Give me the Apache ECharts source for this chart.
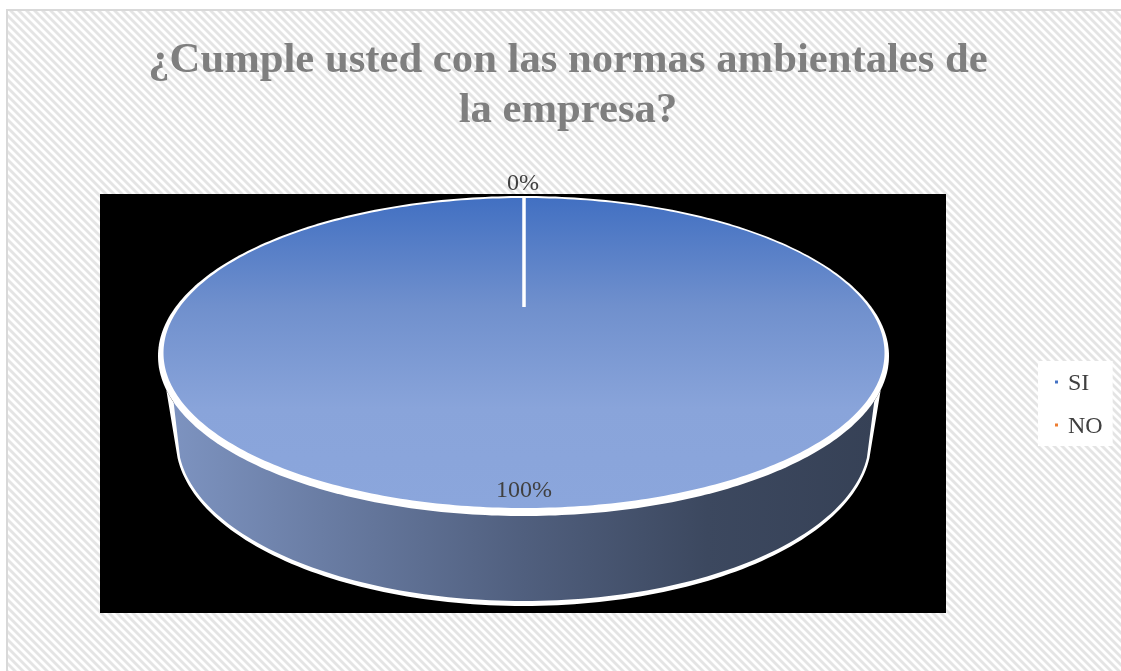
<!DOCTYPE html>
<html>
<head>
<meta charset="utf-8">
<style>
html, body { margin: 0; padding: 0; background: #fff; }
#main { width: 1121px; height: 671px; }
</style>
<script src="https://cdn.jsdelivr.net/npm/echarts@6/dist/echarts.min.js"></script>
</head>
<body>
<div id="main"></div>
<script>
var titleText = '¿Cumple usted con las normas ambientales de\nla empresa?';
var categories = ['SI', 'NO'];
var values = [100, 0];
var legendColors = ['#4472c4', '#ed7d31'];

var serif = '"Liberation Serif", serif';
var total = values.reduce(function (a, b) { return a + b; }, 0);

// geometria del disco: elipses de la tapa y de la base, con su borde blanco aparte
var disc = { cx: 524, cy: 353, rx: 360.5, ry: 155, apexY: 307 };
var discEdge = { cx: 523.5, cy: 356, rx: 365.5, ry: 160 };
var base = { cx: 523.5, cy: 440, rx: 345.5, ry: 161 };
var baseEdge = { cx: 523.5, cy: 440, rx: 348, ry: 166 };

// diagonal hatch of the chart area
function hatchTile() {
    var size = 8;
    var c = document.createElement('canvas');
    c.width = size;
    c.height = size;
    var ctx = c.getContext('2d');
    ctx.fillStyle = '#ffffff';
    ctx.fillRect(0, 0, size, size);
    ctx.strokeStyle = '#e4e4e4';
    ctx.lineWidth = 2.8;
    for (var i = -size; i <= size; i += size) {
        ctx.beginPath();
        ctx.moveTo(i - 1, -1);
        ctx.lineTo(i + size + 1, size + 1);
        ctx.stroke();
    }
    return c;
}

function rimPoint(e, frac) {
    var a = frac * 2 * Math.PI;
    return [e.cx + e.rx * Math.sin(a), e.cy - e.ry * Math.cos(a)];
}

function wedgePath(from, to) {
    var p = 'M' + disc.cx + ' ' + disc.apexY;
    var steps = Math.max(1, Math.ceil((to - from) * 360));
    for (var i = 0; i <= steps; i++) {
        var pt = rimPoint(disc, from + (to - from) * i / steps);
        p += 'L' + pt[0] + ' ' + pt[1];
    }
    return p + 'Z';
}

function ellipsePath(e) {
    var p = '';
    for (var i = 0; i <= 360; i++) {
        var pt = rimPoint(e, i / 360);
        p += (i ? 'L' : 'M') + pt[0] + ' ' + pt[1];
    }
    return p + 'Z';
}

// pared frontal entre la tapa y la base
function wallPath(top, bottom) {
    var p = '';
    var i, pt;
    for (i = 0; i <= 120; i++) {
        pt = rimPoint(top, 0.716 - 0.432 * i / 120);
        p += (i ? 'L' : 'M') + pt[0] + ' ' + pt[1];
    }
    for (i = 0; i <= 120; i++) {
        pt = rimPoint(bottom, 0.2675 + 0.465 * i / 120);
        p += 'L' + pt[0] + ' ' + pt[1];
    }
    return p + 'Z';
}

function sliceSeries(idx) {
    var before = values.slice(0, idx).reduce(function (a, b) { return a + b; }, 0);
    return {
        type: 'custom',
        name: categories[idx],
        coordinateSystem: 'none',
        color: legendColors[idx],
        silent: true,
        z: 5 + idx,
        data: [[before, values[idx]]],
        renderItem: function (params, api) {
            var from = api.value(0) / total;
            var share = api.value(1) / total;
            var big = share > 0.5;
            var children = [];
            if (big) {
                children.push({
                    type: 'path',
                    shape: { pathData: wallPath(discEdge, baseEdge) },
                    style: { fill: '#ffffff' }
                });
                children.push({
                    type: 'path',
                    shape: { pathData: wallPath(disc, base) },
                    style: {
                        fill: new echarts.graphic.LinearGradient(0, 0, 1, 0, [
                            { offset: 0, color: '#7d93c0' },
                            { offset: 0.5, color: '#505f7e' },
                            { offset: 0.76, color: '#3c485f' },
                            { offset: 1, color: '#364156' }
                        ])
                    }
                });
                children.push({
                    type: 'path',
                    shape: { pathData: ellipsePath(discEdge) },
                    style: { fill: '#ffffff' }
                });
            }
            children.push({
                type: 'path',
                shape: { pathData: wedgePath(from, from + share) },
                style: big ? {
                    fill: new echarts.graphic.LinearGradient(0, 0, 0, 1, [
                        { offset: 0, color: '#4270c2' },
                        { offset: 0.35, color: '#7090cd' },
                        { offset: 0.68, color: '#89a4da' },
                        { offset: 1, color: '#8ba6dc' }
                    ])
                } : {
                    fill: '#ffffff',
                    stroke: '#ffffff',
                    lineWidth: 3.5
                }
            });
            // etiqueta: 100% sobre el frente, 0% fuera por arriba
            children.push({
                type: 'text',
                z2: 10,
                style: {
                    text: Math.round(share * 100) + '%',
                    x: big ? 524 : 523,
                    y: big ? 491 : 183.5,
                    align: 'center',
                    verticalAlign: 'middle',
                    fontFamily: serif,
                    fontSize: 24,
                    fill: '#404040'
                }
            });
            return { type: 'group', children: children };
        }
    };
}

var chart = echarts.init(document.getElementById('main'), null, { renderer: 'canvas' });
chart.setOption({
    animation: false,
    backgroundColor: '#ffffff',
    title: {
        text: titleText,
        left: 563,
        top: 31,
        textAlign: 'center',
        textStyle: {
            fontFamily: serif,
            fontWeight: 'bold',
            fontSize: 42.7,
            lineHeight: 50,
            color: '#7f7f7f'
        }
    },
    legend: {
        data: categories,
        orient: 'vertical',
        left: 1038,
        top: 361,
        padding: [11, 10, 7, 17],
        itemWidth: 3,
        itemHeight: 3,
        itemGap: 19,
        icon: 'rect',
        backgroundColor: '#ffffff',
        selectedMode: false,
        formatter: '{a|{name}}',
        textStyle: {
            fontFamily: serif,
            fontSize: 24,
            color: '#404040',
            rich: {
                a: {
                    fontFamily: serif,
                    fontSize: 24,
                    color: '#404040',
                    padding: [4, 0, 0, 5]
                }
            }
        }
    },
    graphic: [
        {
            type: 'rect',
            z: 0,
            silent: true,
            shape: { x: 7, y: 10, width: 1130, height: 680 },
            style: {
                fill: { image: hatchTile(), repeat: 'repeat' },
                stroke: '#d9d9d9',
                lineWidth: 2
            }
        },
        {
            type: 'rect',
            z: 1,
            silent: true,
            shape: { x: 100, y: 194, width: 846, height: 419 },
            style: { fill: '#000000' }
        }
    ],
    series: categories.map(function (name, i) { return sliceSeries(i); })
});
</script>
</body>
</html>
